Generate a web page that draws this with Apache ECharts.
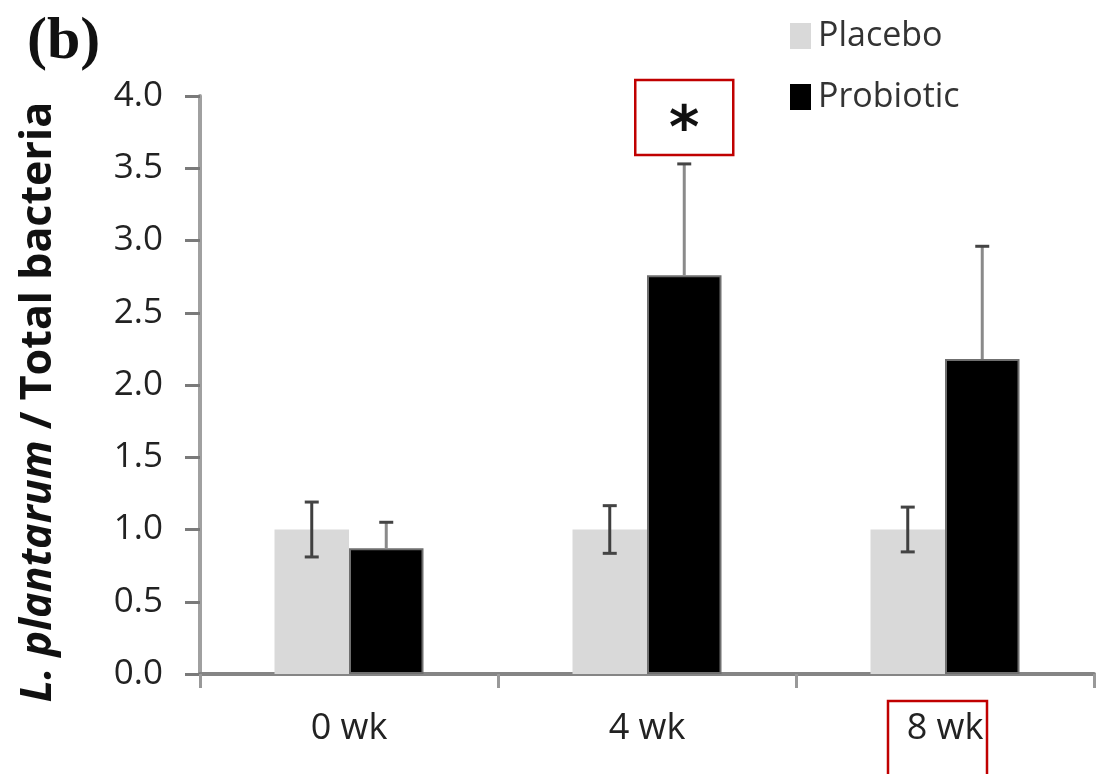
<!DOCTYPE html>
<html>
<head>
<meta charset="utf-8">
<script src="https://cdn.jsdelivr.net/npm/echarts@6/dist/echarts.min.js"></script>
<style>html,body{margin:0;padding:0;background:#fff}#c{width:1107px;height:774px}</style>
</head>
<body>
<div id="c"></div>
<script>
var categories = ['0 wk', '4 wk', '8 wk'];
var placebo = [1.0, 1.0, 1.0];
var placeboErr = [0.19, 0.165, 0.155];
var probiotic = [0.87, 2.76, 2.18];
var probioticErr = [0.18, 0.77, 0.78];
var significant = [false, true, false];
var highlightedCategory = '8 wk';
var yTicks = [0, 0.5, 1, 1.5, 2, 2.5, 3, 3.5, 4];

var chart = echarts.init(document.getElementById('c'));

function errData(vals, errs, side) {
  return vals.map(function (v, i) { return [i, v, errs[i], side, significant[i] ? 1 : 0]; });
}

function renderErr(params, api) {
  var idx = api.value(0), mean = api.value(1), err = api.value(2), side = api.value(3), sig = api.value(4);
  var band = api.size([1, 0])[0];
  var base = api.coord([idx, mean]);
  var cx = base[0] + side * band * 0.125;
  var top = api.coord([idx, mean + err])[1];
  var bottom = side < 0 ? api.coord([idx, mean - err])[1] : base[1];
  var color = side < 0 ? '#3f3f3f' : '#8a8a8a';
  var cap = 7;
  var children = [
    {type: 'line', shape: {x1: cx, y1: top, x2: cx, y2: bottom}, style: {stroke: color, lineWidth: 3}},
    {type: 'line', shape: {x1: cx - cap, y1: top, x2: cx + cap, y2: top}, style: {stroke: '#444', lineWidth: 3}}
  ];
  if (side < 0) {
    children.push({type: 'line', shape: {x1: cx - cap, y1: bottom, x2: cx + cap, y2: bottom}, style: {stroke: '#444', lineWidth: 3}});
  }
  if (side > 0 && sig) {
    children.push({type: 'rect', shape: {x: cx - 49, y: top - 84, width: 98, height: 75},
      style: {fill: 'none', stroke: '#c00000', lineWidth: 2.5}});
    children.push({type: 'text', style: {x: cx, y: top - 32, text: '*', fill: '#111',
      font: 'bold 58px "DejaVu Sans"', align: 'center', verticalAlign: 'middle'}});
  }
  if (side > 0 && categories[idx] === highlightedCategory) {
    var axisPt = api.coord([idx, 0]);
    children.push({type: 'rect', shape: {x: axisPt[0] - 57, y: axisPt[1] + 27, width: 99, height: 90},
      style: {fill: 'none', stroke: '#c00000', lineWidth: 2.5}});
  }
  return {type: 'group', children: children};
}

chart.setOption({
  animation: false,
  backgroundColor: '#fff',
  grid: {left: 200, right: 13, top: 96, bottom: 100},
  graphic: [{
    type: 'text', left: 27, top: 12,
    style: {text: '(b)', font: 'bold 60px "Liberation Serif"', fill: '#111'}
  }],
  legend: {
    orient: 'vertical', left: 785, top: 14, itemGap: 27,
    itemWidth: 21, itemHeight: 26, icon: 'rect',
    itemStyle: {borderWidth: 0},
    textStyle: {fontFamily: 'Open Sans', fontSize: 34, color: '#333', padding: [0, 0, 0, 2]},
    data: ['Placebo', 'Probiotic']
  },
  xAxis: {
    type: 'category', data: categories,
    axisLine: {lineStyle: {color: '#858585', width: 4}},
    axisTick: {show: true, length: 14, lineStyle: {color: '#999', width: 3}},
    axisLabel: {fontFamily: 'Open Sans', fontSize: 36, color: '#222', margin: 37}
  },
  yAxis: {
    type: 'value', min: 0, max: 4, interval: 0.5,
    name: '{i|L. plantarum} / Total bacteria',
    nameLocation: 'middle', nameGap: 140, nameRotate: 90,
    nameTextStyle: {fontFamily: 'Open Sans', fontSize: 43, fontWeight: 'bold', color: '#111',
      padding: [0, 34, 0, 0],
      rich: {i: {fontFamily: 'Open Sans', fontSize: 43, fontWeight: 'bold', fontStyle: 'italic', color: '#111'}}},
    splitLine: {show: false},
    axisLine: {show: true, lineStyle: {color: '#a0a0a0', width: 4}},
    axisTick: {show: true, length: 15, lineStyle: {color: '#7a7a7a', width: 3}},
    axisLabel: {fontFamily: 'Open Sans', fontSize: 35, color: '#222', margin: 37,
      formatter: function (v) { return v.toFixed(1); }}
  },
  series: [
    {name: 'Placebo', type: 'bar', data: placebo, barGap: '0%', barCategoryGap: '50%',
      itemStyle: {color: '#d9d9d9'}},
    {name: 'Probiotic', type: 'bar', data: probiotic, barGap: '0%', barCategoryGap: '50%',
      itemStyle: {color: '#000', borderColor: '#6f6f6f', borderWidth: 2}},
    {type: 'custom', renderItem: renderErr, data: errData(placebo, placeboErr, -1), z: 5, clip: false,
      silent: true},
    {type: 'custom', renderItem: renderErr, data: errData(probiotic, probioticErr, 1), z: 5, clip: false,
      silent: true}
  ]
});
</script>
</body>
</html>
